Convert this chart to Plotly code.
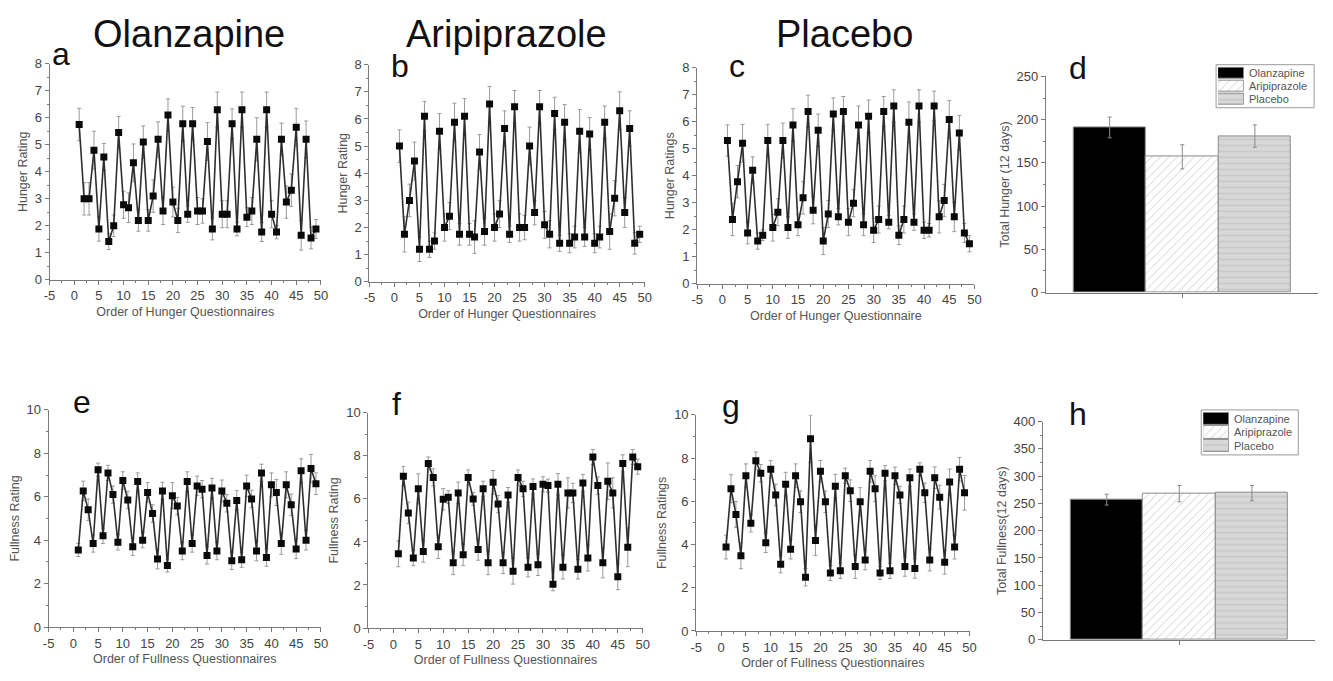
import plotly.graph_objects as go

x_q = list(range(1, 50))
x_ticks = [-5, 0, 5, 10, 15, 20, 25, 30, 35, 40, 45, 50]
x_tick_labels = ["-5", "0", "5", "10", "15", "20", "25", "30", "35", "40", "45", "50"]

hunger_olanzapine = [5.75, 3.0, 3.0, 4.8, 1.88, 4.55, 1.42, 2.0, 5.45, 2.78,
                     2.67, 4.33, 2.2, 5.1, 2.2, 3.1, 5.2, 2.55, 6.1, 2.88,
                     2.2, 5.78, 2.43, 5.78, 2.55, 2.55, 5.12, 1.88, 6.3, 2.43,
                     2.43, 5.78, 1.88, 6.3, 2.32, 2.55, 5.2, 1.77, 6.3, 2.43,
                     1.77, 5.2, 2.88, 3.32, 5.65, 1.65, 5.2, 1.55, 1.88]
hunger_olanzapine_err = [0.6, 0.6, 0.6, 0.7, 0.45, 0.5, 0.3, 0.4, 0.6, 0.5,
                         0.55, 0.7, 0.4, 0.6, 0.4, 0.6, 0.65, 0.5, 0.6, 0.55,
                         0.45, 0.65, 0.3, 0.6, 0.5, 0.45, 0.7, 0.4, 0.65, 0.5,
                         0.5, 0.55, 0.25, 0.65, 0.35, 0.5, 0.8, 0.35, 0.65, 0.5,
                         0.25, 0.6, 0.6, 0.6, 0.7, 0.55, 0.68, 0.4, 0.35]

hunger_aripiprazole = [5.0, 1.75, 3.0, 4.45, 1.2, 6.1, 1.2, 1.5, 5.55, 2.0,
                       2.42, 5.88, 1.75, 6.1, 1.75, 1.65, 4.78, 1.85, 6.55, 2.0,
                       2.5, 5.65, 1.75, 6.45, 2.0, 2.0, 5.0, 2.55, 6.45, 2.1,
                       1.75, 6.2, 1.42, 5.88, 1.42, 1.65, 5.55, 1.65, 5.45, 1.42,
                       1.65, 5.88, 1.85, 3.08, 6.3, 2.55, 5.65, 1.42, 1.75]
hunger_aripiprazole_err = [0.6, 0.65, 0.6, 0.7, 0.45, 0.55, 0.3, 0.3, 0.65, 0.5,
                           0.5, 0.7, 0.4, 0.65, 0.4, 0.6, 0.65, 0.5, 0.65, 0.5,
                           0.5, 0.65, 0.3, 0.6, 0.5, 0.45, 0.7, 0.45, 0.6, 0.5,
                           0.5, 0.6, 0.3, 0.65, 0.35, 0.4, 0.8, 0.35, 0.6, 0.35,
                           0.4, 0.6, 0.65, 0.65, 0.7, 0.55, 0.65, 0.4, 0.3]

hunger_placebo = [5.3, 2.38, 3.78, 5.2, 1.88, 4.2, 1.58, 1.8, 5.3, 2.08,
                  2.65, 5.3, 2.08, 5.88, 2.18, 3.18, 6.38, 2.72, 5.68, 1.58,
                  2.58, 6.28, 2.48, 6.38, 2.28, 2.98, 5.88, 2.18, 6.2, 1.98,
                  2.38, 6.38, 2.28, 6.58, 1.8, 2.38, 5.98, 2.28, 6.58, 1.98,
                  1.98, 6.58, 2.48, 3.08, 6.08, 2.48, 5.58, 1.88, 1.48]
hunger_placebo_err = [0.58, 0.6, 0.6, 0.7, 0.4, 0.5, 0.3, 0.2, 0.6, 0.5,
                      0.5, 0.65, 0.4, 0.6, 0.4, 0.6, 0.6, 0.5, 0.6, 0.5,
                      0.5, 0.6, 0.3, 0.55, 0.5, 0.5, 0.7, 0.4, 0.6, 0.45,
                      0.5, 0.55, 0.25, 0.6, 0.35, 0.5, 0.75, 0.3, 0.6, 0.3,
                      0.25, 0.55, 0.6, 0.6, 0.7, 0.55, 0.65, 0.35, 0.3]

fullness_olanzapine = [3.55, 6.27, 5.4, 3.85, 7.25, 4.2, 7.1, 6.1, 3.9, 6.75,
                       5.85, 3.7, 6.7, 4.0, 6.2, 5.23, 3.13, 6.27, 2.83, 6.05,
                       5.57, 3.5, 6.7, 3.85, 6.5, 6.35, 3.3, 6.4, 3.5, 6.27,
                       5.7, 3.05, 5.83, 3.1, 6.5, 5.9, 3.5, 7.1, 3.2, 6.55,
                       6.2, 3.85, 6.55, 5.63, 3.6, 7.2, 4.0, 7.3, 6.6]
fullness_olanzapine_err = [0.3, 0.45, 0.5, 0.4, 0.3, 0.35, 0.35, 0.4, 0.35, 0.4,
                           0.4, 0.4, 0.4, 0.35, 0.45, 0.4, 0.45, 0.4, 0.3, 0.6,
                           0.4, 0.4, 0.45, 0.4, 0.45, 0.4, 0.4, 0.45, 0.4, 0.5,
                           0.4, 0.4, 0.45, 0.35, 0.5, 0.4, 0.45, 0.4, 0.4, 0.55,
                           0.6, 0.5, 0.6, 0.5, 0.45, 0.55, 0.45, 0.65, 0.5]

fullness_aripiprazole = [3.45, 7.05, 5.35, 3.25, 6.47, 3.56, 7.65, 7.0, 3.78, 5.98,
                         6.08, 3.03, 6.28, 3.4, 7.0, 6.0, 3.65, 6.47, 3.03, 6.77,
                         5.76, 3.03, 6.18, 2.64, 7.0, 6.47, 2.83, 6.58, 2.94, 6.68,
                         6.62, 2.03, 6.68, 2.83, 6.28, 6.28, 2.73, 6.74, 3.25, 7.95,
                         6.62, 3.03, 6.82, 6.28, 2.38, 7.65, 3.75, 7.95, 7.5]
fullness_aripiprazole_err = [0.6, 0.45, 0.5, 0.35, 0.7, 0.5, 0.3, 0.4, 0.55, 0.5,
                             0.3, 0.55, 0.5, 0.5, 0.35, 0.3, 0.5, 0.35, 0.55, 0.55,
                             0.4, 0.5, 0.35, 0.6, 0.35, 0.35, 0.45, 0.35, 0.5, 0.35,
                             0.3, 0.3, 0.5, 0.55, 0.7, 0.45, 0.45, 0.4, 0.6, 0.35,
                             0.4, 0.7, 0.85, 0.7, 0.6, 0.4, 0.9, 0.35, 0.35]

fullness_placebo = [3.88, 6.58, 5.39, 3.48, 7.18, 4.98, 7.88, 7.3, 4.08, 7.48,
                    6.29, 3.09, 6.79, 3.78, 7.18, 5.98, 2.48, 8.89, 4.19, 7.39,
                    5.98, 2.68, 6.7, 2.78, 7.18, 6.49, 2.98, 5.98, 3.28, 7.39,
                    6.58, 2.68, 7.3, 2.78, 7.18, 6.29, 2.98, 7.09, 2.89, 7.48,
                    6.39, 3.28, 7.09, 6.19, 3.18, 6.89, 3.88, 7.48, 6.39]
fullness_placebo_err = [0.55, 0.65, 0.6, 0.6, 0.55, 0.4, 0.4, 0.4, 0.45, 0.4,
                        0.5, 0.4, 0.55, 0.45, 0.55, 0.5, 0.4, 1.1, 0.7, 0.5,
                        0.5, 0.35, 0.55, 0.35, 0.35, 0.5, 0.55, 0.65, 0.45, 0.5,
                        0.6, 0.3, 0.35, 0.35, 0.4, 0.4, 0.45, 0.4, 0.45, 0.3,
                        0.45, 0.5, 0.5, 0.55, 0.55, 0.6, 0.55, 0.55, 0.8]

groups = ["Olanzapine", "Aripiprazole", "Placebo"]
total_hunger = [191, 157, 181]
total_hunger_err = [12, 14, 13]
total_fullness = [257, 268, 269]
total_fullness_err = [10, 15, 14]

FONT = "Liberation Sans, Arial, sans-serif"
AX_COLOR = "#7a7a7a"
W, H = 1333, 681

bar_colors = ["#000000", "#ffffff", "#d8d8d8"]
pattern_shapes = ["", "/", "-"]
pattern_fg = ["#000000", "#9a9a9a", "#9a9a9a"]

fig = go.Figure()

line_panels = [
    (hunger_olanzapine, hunger_olanzapine_err, 1),
    (hunger_aripiprazole, hunger_aripiprazole_err, 2),
    (hunger_placebo, hunger_placebo_err, 3),
    (fullness_olanzapine, fullness_olanzapine_err, 5),
    (fullness_aripiprazole, fullness_aripiprazole_err, 6),
    (fullness_placebo, fullness_placebo_err, 7),
]
for vals, errs, k in line_panels:
    sfx = "" if k == 1 else str(k)
    fig.add_trace(go.Scatter(
        x=x_q, y=vals, mode="lines+markers",
        line=dict(color="#2e2e2e", width=1.6),
        marker=dict(symbol="square", size=7, color="#0a0a0a"),
        error_y=dict(type="data", array=errs, visible=True,
                     color="#9a9a9a", thickness=1, width=2),
        xaxis="x" + sfx, yaxis="y" + sfx, showlegend=False))


def bar_marker(i):
    return dict(color=bar_colors[i],
                line=dict(color="#8a8a8a", width=1),
                pattern=dict(shape=pattern_shapes[i], fgcolor=pattern_fg[i],
                             bgcolor=bar_colors[i], size=6, solidity=0.15))


for vals, errs, k in [(total_hunger, total_hunger_err, 4),
                      (total_fullness, total_fullness_err, 8)]:
    for i, g in enumerate(groups):
        fig.add_trace(go.Bar(
            x=[i + 1], y=[vals[i]], width=1, name=g, marker=bar_marker(i),
            error_y=dict(type="data", array=[errs[i]], visible=True,
                         color="#8a8a8a", thickness=1, width=2),
            xaxis="x" + str(k), yaxis="y" + str(k), showlegend=False))

# hand-made legend swatches (axes 9 and 10)
for k in (9, 10):
    for i, g in enumerate(groups):
        fig.add_trace(go.Bar(
            y=[i + 1], x=[1], orientation="h", width=0.9, name=g, marker=bar_marker(i),
            xaxis="x" + str(k), yaxis="y" + str(k), showlegend=False, hoverinfo="skip"))


def xd(a, b):
    return [a / W, b / W]


def yd(top, bottom):
    return [1 - bottom / H, 1 - top / H]


panels = {
    1: (xd(44, 318), yd(58, 279), [0, 8], 1, "Hunger Rating", "Order of Hunger Questionnaires"),
    2: (xd(367, 645), yd(59, 281), [0, 8], 1, "Hunger Rating", "Order of Hunger Questionnaires"),
    3: (xd(698, 978), yd(62, 283), [0, 8], 1, "Hunger Ratings", "Order of Hunger Questionnaire"),
    5: (xd(43, 318), yd(412, 634), [0, 10], 2, "Fullness Rating", "Order of Fullness Questionnaires"),
    6: (xd(366, 643), yd(415, 635), [0, 10], 2, "Fullness Rating", "Order of Fullness Questionnaires"),
    7: (xd(697, 973), yd(417, 638), [0, 10], 2, "Fullness Ratings", "Order of Fullness Questionnaires"),
    4: (xd(1050, 1325), yd(71, 292), [0, 250], 50, "Total Hunger (12 days)", None),
    8: (xd(1047, 1322), yd(424, 647), [0, 400], 50, "Total Fullness(12 days)", None),
}

layout = dict(
    width=W, height=H, margin=dict(l=0, r=0, t=0, b=0),
    paper_bgcolor="white", plot_bgcolor="white",
    font=dict(family=FONT, color="#333333"),
    bargap=0, showlegend=False,
)
for k, (xdom, ydom, yr, dt, ytitle, xtitle) in panels.items():
    sfx = "" if k == 1 else str(k)
    if k in (4, 8):
        xax = dict(domain=xdom, range=[0.12, 3.87], tickvals=[2], ticktext=[""],
                   showline=True, linecolor=AX_COLOR, ticks="outside", ticklen=4,
                   tickcolor=AX_COLOR, showgrid=False, zeroline=False, anchor="y" + sfx)
    else:
        xax = dict(domain=xdom, range=[-5, 50], tickvals=x_ticks, ticktext=x_tick_labels,
                   showline=True, linecolor=AX_COLOR, ticks="outside", ticklen=4,
                   tickcolor=AX_COLOR, showgrid=False, zeroline=False, anchor="y" + sfx,
                   tickfont=dict(size=13, color="#444444"),
                   minor=dict(ticks="outside", ticklen=2, tickcolor=AX_COLOR, dtick=2.5),
                   title=dict(text=xtitle, font=dict(size=12.5, color="#555555"), standoff=4))
    yax = dict(domain=ydom, range=yr, dtick=dt, showline=True, linecolor=AX_COLOR,
               ticks="outside", ticklen=4, tickcolor=AX_COLOR, showgrid=False,
               zeroline=False, anchor="x" + sfx,
               tickfont=dict(size=13, color="#444444"),
               minor=dict(ticks="outside", ticklen=2, tickcolor=AX_COLOR, dtick=dt / 2),
               title=dict(text=ytitle, font=dict(size=12.5, color="#555555"), standoff=4))
    layout["xaxis" + sfx] = xax
    layout["yaxis" + sfx] = yax

# legend geometry: (box left, box top, box right, box bottom, swatch left, swatch right, text x)
legend_boxes = {
    9: (1222, 59, 1321, 103, 1224, 1250, 1253),
    10: (1207, 412, 1305, 458, 1209, 1235, 1238),
}
shapes = []
annotations = []
for k, (bl, bt, br, bb, sl, sr, tx) in legend_boxes.items():
    layout["xaxis" + str(k)] = dict(domain=xd(sl, sr), range=[0, 1], visible=False,
                                    anchor="y" + str(k), fixedrange=True)
    layout["yaxis" + str(k)] = dict(domain=yd(bt + 2, bb - 2), range=[3.5, 0.5],
                                    visible=False, anchor="x" + str(k), fixedrange=True)
    shapes.append(dict(type="rect", xref="paper", yref="paper",
                       x0=bl / W, x1=br / W, y0=1 - bb / H, y1=1 - bt / H,
                       line=dict(color="#9a9a9a", width=1), fillcolor="rgba(0,0,0,0)",
                       layer="below"))
    row_h = (bb - bt - 4) / 3
    for i, g in enumerate(groups):
        cy = bt + 2 + row_h * (i + 0.5)
        annotations.append(dict(text=g, x=tx / W, y=1 - cy / H, xref="paper", yref="paper",
                                xanchor="left", yanchor="middle", showarrow=False,
                                font=dict(size=11, color="#555555", family=FONT)))

for text, cx in [("Olanzapine", 185), ("Aripiprazole", 505), ("Placebo", 847)]:
    annotations.append(dict(text=text, x=cx / W, y=1 - 28 / H, xref="paper", yref="paper",
                            xanchor="center", yanchor="middle", showarrow=False,
                            font=dict(size=38, color="#111111", family=FONT)))
for letter, lx, ly in [("a", 56, 48), ("b", 398, 60), ("c", 738, 60), ("d", 1083, 62),
                       ("e", 77, 404), ("f", 394, 406), ("g", 732, 408), ("h", 1083, 416)]:
    annotations.append(dict(text=letter, x=lx / W, y=1 - ly / H, xref="paper", yref="paper",
                            xanchor="center", yanchor="middle", showarrow=False,
                            font=dict(size=32, color="#111111", family=FONT)))
layout["annotations"] = annotations
layout["shapes"] = shapes

fig.update_layout(**layout)
fig.write_html("out.html", config={"displayModeBar": False},
               post_script="document.body.style.margin='0px';document.body.style.overflow='hidden';")
